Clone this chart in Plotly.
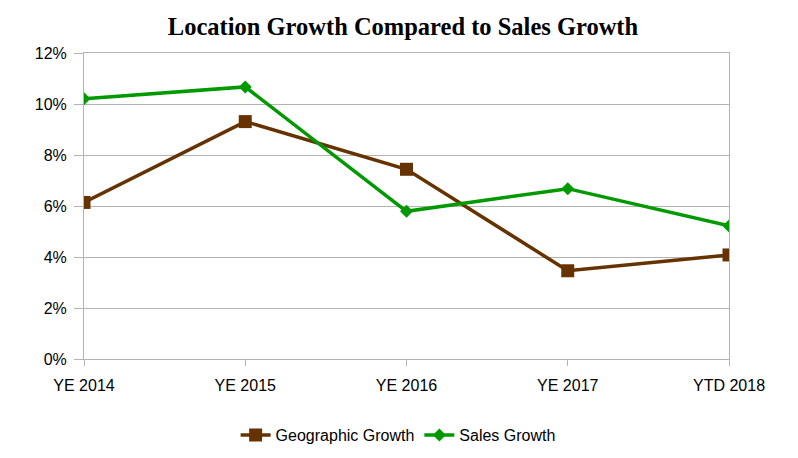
import plotly.graph_objects as go

periods = ["YE 2014", "YE 2015", "YE 2016", "YE 2017", "YTD 2018"]
geographic_growth = [0.0614, 0.0931, 0.0744, 0.0346, 0.0408]
sales_growth = [0.1021, 0.1067, 0.0579, 0.0668, 0.0522]

grid = "#b3b3b3"
brown = "#663300"
green = "#009900"
tick_font = dict(family="Liberation Sans, Arial", size=16, color="#000")

fig = go.Figure()
fig.add_trace(go.Scatter(
    x=periods, y=geographic_growth, name="Geographic Growth",
    mode="lines+markers",
    line=dict(color=brown, width=3.5),
    marker=dict(symbol="square", size=13, color=brown),
))
fig.add_trace(go.Scatter(
    x=periods, y=sales_growth, name="Sales Growth",
    mode="lines+markers",
    line=dict(color=green, width=3.5),
    marker=dict(symbol="diamond", size=10, color=green),
))

fig.update_xaxes(
    range=[0, 4], showgrid=False, showline=True, linecolor=grid, linewidth=1,
    mirror=True, ticks="outside", ticklen=6, tickcolor=grid,
    ticklabelstandoff=6, tickfont=tick_font, automargin=False,
)
fig.update_yaxes(
    range=[0, 0.12], dtick=0.02, tickformat=".0%", showgrid=True, gridcolor=grid,
    showline=True, linecolor=grid, mirror=True, ticks="outside", ticklen=9,
    tickcolor=grid, zeroline=False, ticklabelstandoff=4,
    tickfont=tick_font, automargin=False,
)
# page body has an 8px margin, so the figure is 8px smaller and margins shifted
fig.update_layout(
    width=790, height=450,
    template="plotly_white",
    plot_bgcolor="white", paper_bgcolor="white",
    title=dict(text="<b>Location Growth Compared to Sales Growth</b>", x=0.5, xanchor="center",
               y=1 - 18 / 450, yanchor="middle",
               font=dict(family="Liberation Serif, Times New Roman", size=24.5, color="#000")),
    legend=dict(orientation="h", x=0.487, xanchor="center", yref="container", y=23 / 450,
                yanchor="middle", font=tick_font),
    margin=dict(l=76, r=69, t=45, b=99, autoexpand=False),
)

fig.write_html("out.html")
